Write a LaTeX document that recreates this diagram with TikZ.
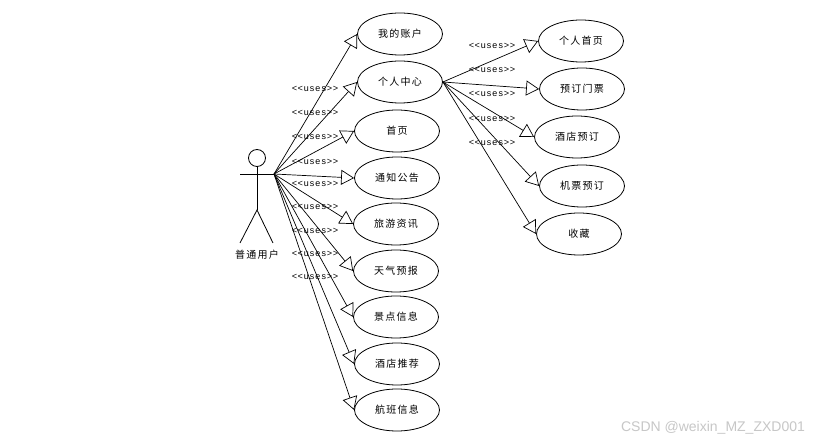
\documentclass[tikz,border=0pt]{standalone}
\usepackage{fontspec}
\setmainfont{Liberation Sans}
\newfontfamily\cjk[LetterSpace=12]{Noto Sans CJK SC}
\newfontfamily\monof[LetterSpace=5]{Liberation Mono}
\usetikzlibrary{shapes.geometric,arrows.meta}
\begin{document}
\begin{tikzpicture}[x=1pt,y=-1pt,
  uc/.style={draw,ellipse,line width=0.8pt,minimum width=85pt,minimum height=42pt,inner sep=0pt,font=\cjk\fontsize{10}{12}\selectfont},
  usesl/.style={font=\monof\fontsize{9}{10}\selectfont,inner sep=0pt},
  actorline/.style={line width=0.8pt},
  assoc/.style={line width=0.7pt,-{Triangle[open,length=13pt,width=15pt]}}]
\useasboundingbox[fill=white] (0,0) rectangle (822,443);
% actor
\node[draw,circle,line width=0.8pt,minimum size=17pt,inner sep=0pt] (head) at (257,158) {};
\coordinate (hip) at (257,210);
\coordinate (larm) at (240,174);
\coordinate (rarm) at (274,174);
\coordinate (lfoot) at (240,243);
\coordinate (rfoot) at (273,243);
\draw[actorline] (head.south) -- (hip);
\draw[actorline] (larm) -- (rarm);
\draw[actorline] (lfoot) -- (hip) -- (rfoot);
\node[font=\cjk\fontsize{10}{12}\selectfont] (actorlbl) at (257,255) {普通用户};
% left use cases
\node[uc] (u1) at (400,34) {我的账户};
\node[uc] (u2) at (400,82) {个人中心};
\node[uc] (u3) at (397,131) {首页};
\node[uc] (u4) at (397,178) {通知公告};
\node[uc] (u5) at (396,224) {旅游资讯};
\node[uc] (u6) at (396,271) {天气预报};
\node[uc] (u7) at (396,317) {景点信息};
\node[uc] (u8) at (397,364) {酒店推荐};
\node[uc] (u9) at (397,410) {航班信息};
% right use cases
\node[uc] (r1) at (581,41) {个人首页};
\node[uc] (r2) at (582,89) {预订门票};
\node[uc] (r3) at (577,137) {酒店预订};
\node[uc] (r4) at (582,186) {机票预订};
\node[uc] (r5) at (579,234) {收藏};
% connectors
\foreach \n in {u1,u2,u3,u4,u5,u6,u7,u8,u9}
  \draw[assoc] (rarm) -- (\n.west);
\foreach \n in {r1,r2,r3,r4,r5}
  \draw[assoc] (u2.east) -- (\n.west);
% labels
\foreach \y [count=\i] in {89,113,137,162,184,207,231,254,277}
  \node[usesl] (ll\i) at (315,\y) {\textless\textless uses\textgreater\textgreater};
\foreach \y [count=\i] in {46,70,94,119,143}
  \node[usesl] (rl\i) at (492,\y) {\textless\textless uses\textgreater\textgreater};
% watermark
\node[font=\fontsize{14}{16}\selectfont,text=black!22] (wm) at (713,428) {CSDN @weixin\_MZ\_ZXD001};
\end{tikzpicture}
\end{document}
